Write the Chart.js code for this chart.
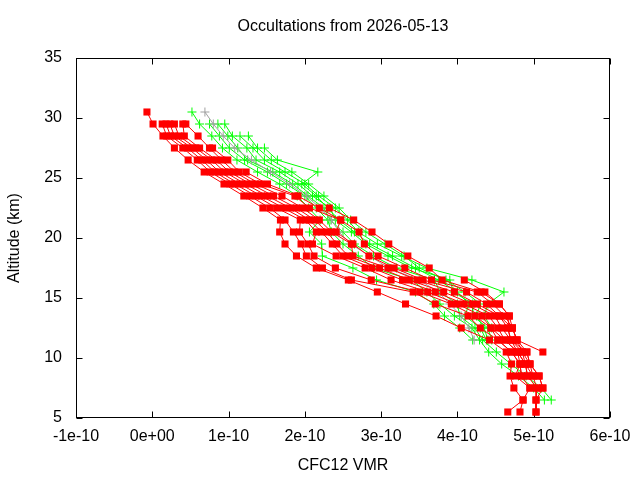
<!DOCTYPE html>
<html>
<head>
<meta charset="utf-8">
<script src="https://cdn.jsdelivr.net/npm/chart.js@4.4.1/dist/chart.umd.min.js"></script>
<style>
html,body{margin:0;padding:0;background:#fff}
#c{display:block}
</style>
</head>
<body>
<canvas id="c" width="640" height="480"></canvas>
<script>
// Altitude levels (km), top to bottom
const altitudes = [30.5,29.5,28.5,27.5,26.5,25.5,24.5,23.5,22.5,21.5,20.5,19.5,18.5,17.5,16.5,15.5,14.5,13.5,12.5,11.5,10.5,9.5,8.5,7.5,6.5,5.5];

// X tick values (units of 1e-10) and labels
const xTicks = [-1,0,1,2,3,4,5,6];
const xTickLabels = ['-1e-10','0e+00','1e-10','2e-10','3e-10','4e-10','5e-10','6e-10'];
const yTicks = [5,10,15,20,25,30,35];

// Red profiles: CFC12 VMR in units of 1e-10, one value per altitude level (null = no value)
const red1  = [-0.07,0.01,0.14,0.29,0.47,0.68,0.94,1.20,1.45,1.68,1.67,1.74,1.89,2.15,2.57,2.95,3.32,3.72,4.05,4.42,4.64,4.71,4.69,4.74,4.86,4.66];
const red2  = [null,0.13,0.19,0.40,0.59,0.76,1.02,1.28,1.54,1.74,1.85,1.95,2.02,2.23,2.61,3.42,3.71,4.14,4.30,4.53,4.71,4.82,4.76,4.95,4.86,4.82];
const red3  = [null,0.18,0.24,0.46,0.65,0.82,1.08,1.36,1.63,1.94,1.93,2.04,2.12,2.40,2.87,3.51,3.92,4.23,4.44,4.53,4.71,4.82,4.84,4.95,null,null];
const red4  = [null,0.23,0.29,0.52,0.71,0.88,1.15,1.43,1.72,2.01,2.15,2.10,2.41,2.79,3.13,3.61,4.00,4.32,4.44,4.62,4.79,4.89,4.92,5.04,5.03,5.03];
const red5  = [null,0.29,0.35,0.57,0.78,0.95,1.22,1.51,1.81,2.06,2.22,2.36,2.50,2.88,3.28,3.71,4.09,4.41,4.53,4.62,4.79,4.89,4.99,5.04,null,null];
const red6  = [null,0.40,0.42,0.62,0.84,1.01,1.29,1.59,1.89,2.13,2.29,2.42,2.57,2.98,3.37,3.82,4.19,4.49,4.58,4.70,4.85,4.95,5.07,5.12,5.03,5.03];
const red7  = [null,0.44,0.60,0.75,0.91,1.08,1.35,1.70,1.97,2.19,2.35,2.61,2.63,3.09,3.47,3.96,4.26,4.55,4.66,4.70,4.91,4.95,5.07,5.12,null,null];
const red8  = [null,null,null,0.79,0.99,1.14,1.42,1.87,2.06,2.47,2.41,2.63,2.84,3.17,3.55,4.12,4.38,4.55,4.72,4.78,4.91,4.95,4.99,null,null,null];
const red9  = [null,null,null,null,null,1.23,1.51,1.91,2.19,2.47,2.71,2.78,2.96,3.31,3.66,4.26,4.46,4.62,4.72,4.78,5.12,null,null,null,null,null];
const red10 = [null,null,null,null,null,null,null,null,2.32,2.64,2.88,3.10,3.35,3.63,3.80,4.31,4.55,4.68,4.72,4.78,4.85,4.89,4.92,null,null,null];
const red11 = [null,null,null,null,null,null,null,null,null,null,null,null,null,null,4.09,4.36,4.55,4.68,4.66,4.70,4.79,4.82,4.84,null,null,null];

// Green profiles
const green1 = [0.52,0.62,0.78,0.92,1.11,1.38,1.67,1.90,2.05,2.20,2.06,2.22,2.23,2.63,2.94,3.45,3.69,3.83,4.03,4.20,null,null,null,null,null,null];
const green2 = [null,0.75,0.88,1.01,1.21,1.51,1.76,2.00,2.15,2.30,2.35,2.50,2.70,2.90,3.40,3.60,3.77,3.96,4.19,4.29,4.41,4.58,4.80,5.00,5.14,null];
const green3 = [null,0.86,0.99,1.12,1.25,1.58,1.84,2.04,2.25,2.33,2.50,2.65,2.90,3.20,3.70,3.77,4.00,4.03,4.23,4.33,4.51,4.70,4.90,5.10,5.23,null];
const green4 = [null,0.95,1.05,1.24,1.36,1.67,1.91,2.10,2.33,2.40,2.61,2.80,3.09,3.40,3.90,3.95,4.20,4.20,4.40,4.45,null,null,null,null,null,null];
const green5 = [null,null,1.15,1.32,1.47,1.74,2.00,2.18,2.40,2.56,2.70,2.95,3.27,3.60,4.19,4.61,4.40,4.35,4.45,null,null,null,null,null,null,null];
const green6 = [null,null,1.26,1.38,1.56,1.83,2.05,2.25,2.45,2.60,2.80,3.05,3.30,3.50,3.85,4.10,4.30,4.25,4.35,4.40,null,null,null,null,null,null];
const green7 = [null,null,null,1.47,1.64,2.17,1.96,2.15,2.30,2.45,2.65,2.85,3.15,3.45,3.75,4.00,4.15,4.10,4.30,4.38,null,null,null,null,null,null];

// Gray profile
const gray1 = [0.69,0.80,0.93,1.08,1.30,1.55,1.80,2.02,2.20,2.35,2.45,2.60,2.85,3.10,3.50,3.75,3.90,4.05,4.15,4.22,null,null,null,null,null,null];

const redProfiles = [red1,red2,red3,red4,red5,red6,red7,red8,red9,red10,red11];
const greenProfiles = [green1,green2,green3,green4,green5,green6,green7];
const grayProfiles = [gray1];

function toPoints(vals){
  const pts = [];
  vals.forEach((v,i)=>{ if(v!==null) pts.push({x:v, y:altitudes[i]}); });
  return pts;
}

const FONT = "'Liberation Sans', Arial, sans-serif";
const datasets = [];
greenProfiles.forEach(p=>datasets.push({
  data: toPoints(p), showLine:true, borderColor:'#00ff00', backgroundColor:'#00ff00',
  borderWidth:1, pointStyle:'cross', pointRadius:4.5, pointBorderWidth:1, pointBorderColor:'#00ff00',
  order:2, tension:0
}));
grayProfiles.forEach(p=>datasets.push({
  data: toPoints(p), showLine:true, borderColor:'#a0a0a0', backgroundColor:'#a0a0a0',
  borderWidth:1, pointStyle:'cross', pointRadius:4.5, pointBorderWidth:1, pointBorderColor:'#a0a0a0',
  order:1, tension:0
}));
redProfiles.forEach(p=>datasets.push({
  data: toPoints(p), showLine:true, borderColor:'#ff0000', backgroundColor:'#ff0000',
  borderWidth:1, pointStyle:'rect', pointRadius:5, pointBorderWidth:0,
  order:0, tension:0
}));

const framePlugin = {
  id:'frame',
  beforeDatasetsDraw(chart){
    const {ctx, chartArea, scales} = chart;
    const {left,right,top,bottom} = chartArea;
    ctx.save();
    ctx.strokeStyle = '#000';
    ctx.lineWidth = 1;
    const L = Math.round(left)+0.5, R = Math.round(right)-0.5, T = Math.round(top)+0.5, B = Math.round(bottom)-0.5;
    ctx.strokeRect(L, T, R-L, B-T);
    ctx.beginPath();
    const tl = 6;
    xTicks.forEach(v=>{
      const px = Math.round(scales.x.getPixelForValue(v))+0.5;
      ctx.moveTo(px,B); ctx.lineTo(px,B-tl);
      ctx.moveTo(px,T); ctx.lineTo(px,T+tl);
    });
    yTicks.forEach(v=>{
      const py = Math.round(scales.y.getPixelForValue(v))+0.5;
      ctx.moveTo(L,py); ctx.lineTo(L+tl,py);
      ctx.moveTo(R,py); ctx.lineTo(R-tl,py);
    });
    ctx.stroke();
    ctx.restore();
  }
};

new Chart(document.getElementById('c'), {
  type:'scatter',
  data:{datasets},
  options:{
    responsive:false,
    animation:false,
    devicePixelRatio:1,
    layout:{padding:{left:0,right:30,top:0,bottom:0}},
    plugins:{
      legend:{display:false},
      tooltip:{enabled:false},
      title:{
        display:true, text:'Occultations from 2026-05-13', color:'#000',
        fullSize:false,
        font:{family:FONT,size:16,weight:'normal',lineHeight:1.2},
        padding:{top:17.4,bottom:21.4}
      }
    },
    scales:{
      x:{
        type:'linear', min:-1, max:6,
        afterFit(s){ s.height = 62; },
        afterBuildTicks(s){ s.ticks = xTicks.map(v=>({value:v})); },
        grid:{display:false, drawTicks:false},
        border:{display:false},
        ticks:{
          color:'#000', padding:9.4, maxRotation:0, autoSkip:false,
          font:{family:FONT,size:16,lineHeight:1.2},
          callback:(v)=>xTickLabels[xTicks.indexOf(v)]
        },
        title:{display:true, text:'CFC12 VMR', color:'#000',
          font:{family:FONT,size:16,lineHeight:1.2}, padding:{top:0,bottom:4.4}}
      },
      y:{
        type:'linear', min:5, max:35,
        afterFit(s){ s.width = 76; },
        afterBuildTicks(s){ s.ticks = yTicks.map(v=>({value:v})); },
        grid:{display:false, drawTicks:false},
        border:{display:false},
        ticks:{
          color:'#000', padding:14, autoSkip:false,
          font:{family:FONT,size:16,lineHeight:1.2},
          callback:(v)=>String(v)
        },
        title:{display:true, text:'Altitude (km)', color:'#000',
          font:{family:FONT,size:16,lineHeight:1.2}, padding:{top:5.4,bottom:0}}
      }
    }
  },
  plugins:[framePlugin]
});
</script>
</body>
</html>
